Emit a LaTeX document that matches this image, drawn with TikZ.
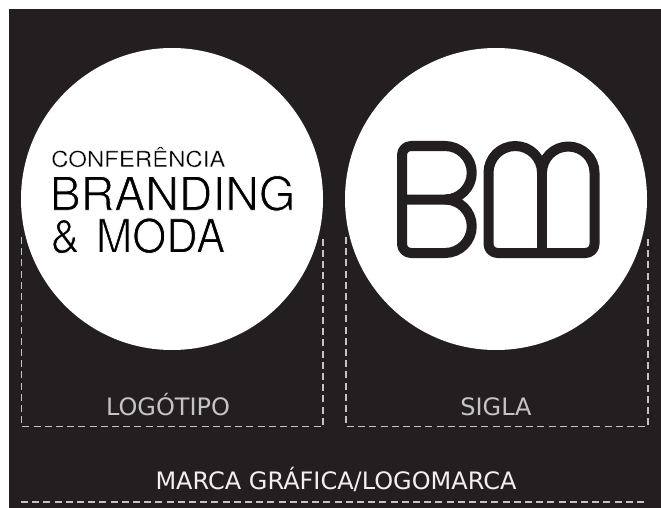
\documentclass[tikz,border=0pt]{standalone}
\usepackage{fontspec}
\setmainfont{DejaVu Sans}
\newfontfamily\logofont{TeX Gyre Heros}
\newfontfamily\logowide[FakeStretch=1.1]{TeX Gyre Heros}
\newfontfamily\logonarrow[FakeStretch=0.94]{TeX Gyre Heros}
\definecolor{bgdark}{HTML}{231F20}
\definecolor{lblgray}{HTML}{C4C4C4}
\definecolor{lblwhite}{HTML}{F0F0F0}
\newcommand{\thinglyph}[2]{\special{pdf:code q 2 Tr #1 w 1 1 1 RG}#2\special{pdf:code Q}}
\tikzset{
  disc/.style={fill=white,draw=none,circle,minimum size=302pt,inner sep=0pt},
  dashbox/.style={draw=lblgray,line width=1.1pt,dash pattern=on 7pt off 4.2pt},
  mono/.style={draw=bgdark,line width=10pt,line join=round},
  lbl/.style={inner sep=0pt,anchor=base,text=lblgray,font=\fontsize{24}{28}\selectfont},
  lblmain/.style={lbl,text=lblwhite},
  logo/.style={inner sep=0pt,anchor=base west,text=black},
}
\begin{document}
\begin{tikzpicture}[x=1pt,y=-1pt]
\useasboundingbox (0,0) rectangle (661,508);
\fill[white] (0,0) rectangle (661,508);
\fill[bgdark] (8.5,9.5) rectangle (661,508);
% dashed frames (behind the discs)
\coordinate (la) at (21.5,237); \coordinate (lb) at (21.5,426.5);
\coordinate (lc) at (323,426.5); \coordinate (ld) at (323,237);
\coordinate (ra) at (346,237); \coordinate (rb) at (346,426.5);
\coordinate (rc) at (648,426.5); \coordinate (rd) at (648,237);
\coordinate (ma) at (21,502); \coordinate (mb) at (646,502);
\draw[dashbox] (la) -- (lb) -- (lc) -- (ld);
\draw[dashbox] (ra) -- (rb) -- (rc) -- (rd);
\draw[dashbox] (ma) -- (mb);
% discs
\node[disc] (dl) at (172,199) {};
\node[disc] (dr) at (496,199) {};
% word mark
\node[logo,font=\logowide\fontsize{21.8}{25}\selectfont] (t1) at (51,166.8) {\thinglyph{0.3}{CONFERÊNCIA}};
\node[logo,font=\logofont\fontsize{46.5}{50}\selectfont] (t2) at (49.5,210.3) {\thinglyph{0.8}{BRANDING}};
\node[logo,font=\logonarrow\fontsize{46.5}{50}\selectfont] (t3) at (50.5,252.6) {\thinglyph{0.8}{\&\hspace{16pt}MODA}};
% monogram B
\draw[mono] (402,155) arc[start angle=180,end angle=90,radius=9pt]
  -- (445,146) arc[start angle=90,end angle=-90,radius=26.75pt] -- (402,199.5) -- cycle;
\draw[mono] (402,199.5) -- (402,244) arc[start angle=180,end angle=270,radius=9pt]
  -- (445,253) arc[start angle=-90,end angle=90,radius=26.75pt];
% monogram M
\draw[mono] (488.5,172.75) arc[start angle=180,end angle=0,radius=26.75pt]
  arc[start angle=180,end angle=0,radius=26.25pt]
  -- (594.5,244) arc[start angle=0,end angle=-90,radius=9pt]
  -- (497.5,253) arc[start angle=-90,end angle=-180,radius=9pt] -- cycle;
\draw[mono] (542,172.75) -- (542,253);
% labels
\node[lbl] (l1) at (168,415) {LOGÓTIPO};
\node[lbl] (l2) at (496,415) {SIGLA};
\node[lblmain] (l3) at (336,489.5) {MARCA GRÁFICA/LOGOMARCA};
\end{tikzpicture}
\end{document}
